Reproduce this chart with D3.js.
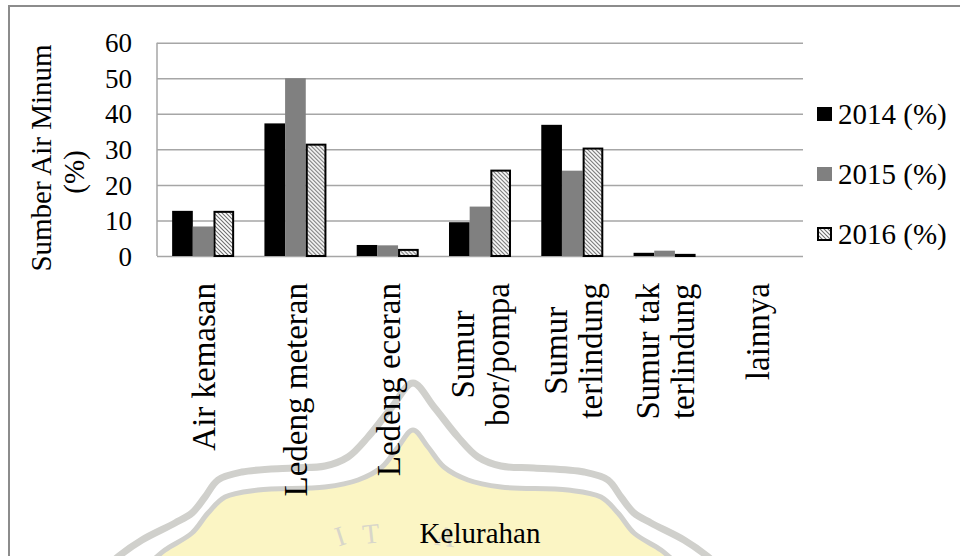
<!DOCTYPE html>
<html>
<head>
<meta charset="utf-8">
<script src="https://cdn.jsdelivr.net/npm/d3@7/dist/d3.min.js"></script>
<style>
  html, body { margin: 0; padding: 0; background: #fff; }
  svg { display: block; }
</style>
</head>
<body>
<svg id="chart" width="960" height="556"></svg>
<script>
// Water source categories (multi-line labels split on \n)
const categories = [
  "Air kemasan",
  "Ledeng meteran",
  "Ledeng eceran",
  "Sumur\nbor/pompa",
  "Sumur\nterlindung",
  "Sumur tak\nterlindung",
  "lainnya"
];
const seriesNames = ["2014 (%)", "2015 (%)", "2016 (%)"];
const values2014 = [12.7, 37.3, 3.1, 9.5, 36.9, 0.9, 0];
const values2015 = [8.3, 50.0, 3.0, 13.9, 24.0, 1.5, 0];
const values2016 = [12.7, 31.6, 2.0, 24.3, 30.5, 0.6, 0];
const yTicks = [0, 10, 20, 30, 40, 50, 60];

const seriesValues = [values2014, values2015, values2016];
const SERIF = '"Liberation Serif", Tinos, "Times New Roman", Times, "DejaVu Serif", serif';

const svg = d3.select("#chart");
const W = 960, H = 556;

// ---- faint crest emblem in the background ----
const emblem = svg.append("g").attr("class", "emblem");
const cx = 413;
const outerHalf = [[0,383],[21,407],[45,437],[65,457],[88,466],[121,468],[171,472],[195,480],[208,497],[221,513],[238,523],[271,540],[294,556],[305,566]];
const innerHalf = [[0,430],[15,447],[31,467],[55,480],[88,487],[155,490],[188,497],[205,513],[221,533],[248,550],[262,562],[270,570]];
function mirrored(half) {
  const right = half.map(([dx, y]) => [cx + dx, y]);
  const left = half.slice(1).map(([dx, y]) => [cx - dx, y]).reverse();
  return left.concat(right);
}
const curve = d3.line().curve(d3.curveCatmullRom.alpha(0.5));
emblem.append("path")
  .attr("d", curve(mirrored(innerHalf)) + "Z")
  .attr("fill", "#fbf5c4").attr("stroke", "none");
emblem.append("path")
  .attr("d", curve(mirrored(innerHalf)))
  .attr("fill", "none").attr("stroke", "#d0d0cc").attr("stroke-width", 5);
emblem.append("path")
  .attr("d", curve(mirrored(outerHalf)))
  .attr("fill", "none").attr("stroke", "#d0d0cc").attr("stroke-width", 7);
[["I", 343, 545, -18], ["T", 372, 543, -6], ["A", 444, 546, 8]].forEach(([ch, x, y, r]) => {
  emblem.append("text")
    .attr("transform", `translate(${x},${y}) rotate(${r})`)
    .attr("text-anchor", "middle")
    .style("font-family", SERIF)
    .style("font-size", "28px")
    .style("fill", "#d8d6ca")
    .text(ch);
});

// ---- chart frame ----
svg.append("rect")
  .attr("x", 9).attr("y", 6)
  .attr("width", W + 20).attr("height", H + 20)
  .attr("fill", "none").attr("stroke", "#8c8c8c").attr("stroke-width", 2);

// ---- scales ----
const plot = { left: 157, right: 803, top: 42.7, bottom: 256 };
const x0 = d3.scaleBand().domain(categories).range([plot.left, plot.right]).padding(0);
const groupW = x0.bandwidth() * 0.672;
const x1 = d3.scaleBand().domain(seriesNames)
  .range([(x0.bandwidth() - groupW) / 2, (x0.bandwidth() + groupW) / 2]).padding(0);
const y = d3.scaleLinear().domain([0, 60]).range([plot.bottom, plot.top]);

// hatch pattern for 2016
const defs = svg.append("defs");
const pat = defs.append("pattern")
  .attr("id", "hatch").attr("patternUnits", "userSpaceOnUse")
  .attr("width", 4).attr("height", 4);
pat.append("rect").attr("width", 4).attr("height", 4).attr("fill", "#fff");
pat.append("path").attr("d", "M-1,-1 L5,5 M-1,3 L1,5 M3,-1 L5,1")
  .attr("stroke", "#707070").attr("stroke-width", 1.1);

// gridlines
const grid = svg.append("g")
  .attr("transform", `translate(${plot.left},0)`)
  .call(d3.axisLeft(y).tickValues(yTicks).tickSize(-(plot.right - plot.left)).tickFormat(""));
grid.select(".domain").remove();
grid.selectAll(".tick line").attr("stroke", "#a6a6a6").attr("stroke-width", 1.5);

// left axis line
svg.append("line")
  .attr("x1", plot.left).attr("x2", plot.left)
  .attr("y1", y(60)).attr("y2", y(0))
  .attr("stroke", "#a6a6a6").attr("stroke-width", 1.5);

// y tick labels
const yAxis = svg.append("g")
  .attr("transform", `translate(132,0)`)
  .call(d3.axisLeft(y).tickValues(yTicks).tickSize(0).tickPadding(0));
yAxis.attr("font-family", null).attr("font-size", null);
yAxis.select(".domain").remove();
yAxis.selectAll("text")
  .attr("text-anchor", "end")
  .attr("dy", "0.34em")
  .attr("fill", "#000")
  .style("font-size", "27px")
  .style("font-family", SERIF);

// ---- bars ----
const fills = ["#000000", "#808080", "url(#hatch)"];
const groups = svg.append("g").selectAll("g")
  .data(categories)
  .join("g")
  .attr("transform", d => `translate(${x0(d)},0)`);
groups.selectAll("rect")
  .data((d, i) => seriesNames.map((s, j) => ({ s, j, v: seriesValues[j][i] })))
  .join("rect")
  .filter(d => d.v > 0)
  .attr("x", d => x1(d.s) + (d.j === 2 ? 1 : 0))
  .attr("width", d => x1.bandwidth() - (d.j === 2 ? 2 : 0))
  .attr("y", d => y(d.v) + (d.j === 2 ? 1 : 0))
  .attr("height", d => Math.max(0, y(0) - y(d.v) - (d.j === 2 ? 1 : 0)))
  .attr("fill", d => fills[d.j])
  .attr("stroke", d => d.j === 2 ? "#000" : "none")
  .attr("stroke-width", 2);

// ---- category labels (rotated, multi-line centred) ----
const labelTop = 283;
const lineGap = 35;
const xl = svg.append("g");
categories.forEach(cat => {
  const lines = cat.split("\n");
  const cxCat = x0(cat) + x0.bandwidth() / 2;
  const g = xl.append("g").attr("transform", `translate(${cxCat},${labelTop}) rotate(-90)`);
  lines.forEach((ln, k) => {
    const off = (k - (lines.length - 1) / 2) * lineGap;
    g.append("text")
      .attr("x", 0)
      .attr("y", off)
      .attr("dy", "0.36em")
      .attr("text-anchor", "end")
      .style("font-family", SERIF)
      .style("font-size", "33px")
      .text(ln);
  });
  // centre the lines of a wrapped label against each other
  if (lines.length > 1) {
    const texts = g.selectAll("text").nodes();
    const widths = texts.map(t => t.getComputedTextLength());
    const maxW = d3.max(widths);
    texts.forEach((t, k) => d3.select(t).attr("x", -(maxW - widths[k]) / 2));
  }
});

// axis titles
svg.append("text")
  .attr("transform", "translate(480,543)")
  .attr("text-anchor", "middle")
  .style("font-family", SERIF)
  .style("font-size", "29px")
  .text("Kelurahan");

const yt = svg.append("g").attr("transform", "translate(0,158) rotate(-90)");
yt.append("text").attr("x", 0).attr("y", 51).attr("text-anchor", "middle")
  .style("font-family", SERIF)
  .style("font-size", "29px").text("Sumber Air Minum");
yt.append("text").attr("x", -14).attr("y", 84).attr("text-anchor", "middle")
  .style("font-family", SERIF)
  .style("font-size", "29px").text("(%)");

// ---- legend ----
const legend = svg.append("g").selectAll("g")
  .data(seriesNames)
  .join("g")
  .attr("transform", (d, i) => `translate(817,${114 + i * 60})`);
legend.append("rect")
  .attr("x", (d, i) => i === 2 ? 1 : 0)
  .attr("y", (d, i) => -7 + (i === 2 ? 1 : 0))
  .attr("width", (d, i) => i === 2 ? 13 : 15)
  .attr("height", (d, i) => i === 2 ? 12 : 14)
  .attr("fill", (d, i) => fills[i])
  .attr("stroke", (d, i) => i === 2 ? "#000" : "none")
  .attr("stroke-width", 2);
legend.append("text")
  .attr("x", 21)
  .attr("dy", "0.34em")
  .style("font-family", SERIF)
  .style("font-size", "29px")
  .text(d => d);
</script>
</body>
</html>
